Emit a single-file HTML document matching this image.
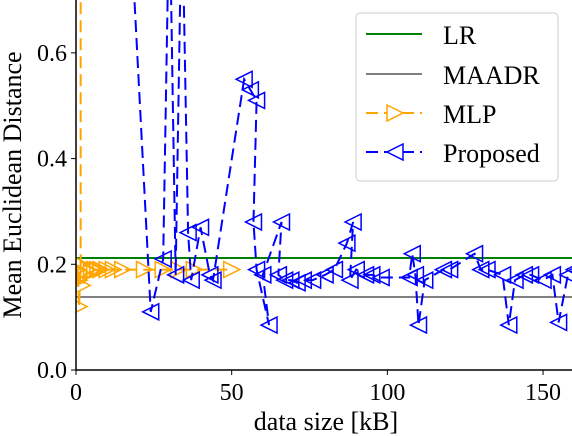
<!DOCTYPE html>
<html><head><meta charset="utf-8"><style>
body{margin:0;background:#fff}
svg{display:block;font-family:"Liberation Serif",serif}
</style></head><body>
<svg id="c" width="572" height="436"></svg>
<script>
const xTicks=[0,50,100,150];
const yTicks=[0.0,0.2,0.4,0.6];
const yTickLabels=["0.0","0.2","0.4","0.6"];
const lrValue=0.212;
const maadrValue=0.138;
const mlpX=[1.5,1.5,1,0.5,1,2,3,4,5,6,7,8,10,12,15,22,28,33,38,50];
const mlpY=[0.9,0.2,0.12,0.19,0.17,0.16,0.18,0.19,0.185,0.19,0.19,0.19,0.19,0.19,0.19,0.19,0.19,0.19,0.19,0.19];
const propX=[17,24,28,30,32,34,36,37,40,43,44,54,56,58,57,58,62,60,66,65,67,69,71,73,76,80,83,87,89,88,90,93,95,98,107,108,109,110,112,118,120,128,130,132,137,139,141,144,146,150,153,155,158,160];
const propY=[0.9,0.11,0.21,0.9,0.18,0.9,0.26,0.17,0.27,0.18,0.17,0.55,0.53,0.51,0.28,0.19,0.085,0.18,0.28,0.18,0.17,0.17,0.165,0.17,0.17,0.18,0.19,0.24,0.28,0.17,0.19,0.18,0.18,0.175,0.175,0.22,0.18,0.085,0.17,0.19,0.19,0.22,0.19,0.19,0.18,0.085,0.17,0.18,0.18,0.17,0.18,0.09,0.18,0.19];
const L=76,R=572,T=0,B=370,xMax=159.3,yMax=0.7;
const sx=v=>L+(v/xMax)*(R-L);
const sy=v=>B-(v/yMax)*(B-T);
const svg=document.getElementById('c');
const NS='http://www.w3.org/2000/svg';
function mk(tag,attrs,parent){const e=document.createElementNS(NS,tag);for(const k in attrs)e.setAttribute(k,attrs[k]);(parent||svg).appendChild(e);return e;}
const defs=mk('defs',{});const cp=mk('clipPath',{id:'pc'},defs);mk('rect',{x:L,y:T,width:R-L,height:B-T},cp);
const plot=mk('g',{'clip-path':'url(#pc)'});


let e=mk('line',{x1:L,x2:R,y1:sy(lrValue),y2:sy(lrValue),stroke:'green','stroke-width':2},plot);


e=mk('line',{x1:L,x2:R,y1:sy(maadrValue),y2:sy(maadrValue),stroke:'gray','stroke-width':2},plot);


function series(xs,ys,color,dir,name){
  const pts=xs.map((x,i)=>sx(x)+','+sy(ys[i])).join(' ');
  const pl=mk('polyline',{points:pts,fill:'none',stroke:color,'stroke-width':2,'stroke-dasharray':'12,6'},plot);
  
  
  xs.forEach((x,i)=>{const cx=sx(x),cy=sy(ys[i]),s=8;
    const p=dir>0?`${cx-s},${cy-s} ${cx+s},${cy} ${cx-s},${cy+s}`:`${cx+s},${cy-s} ${cx-s},${cy} ${cx+s},${cy+s}`;
    const m=mk('polygon',{points:p,fill:'none',stroke:color,'stroke-width':1.5},plot);
    
    });
}
series(mlpX,mlpY,'orange',1,'mlp');
series(propX,propY,'blue',-1,'proposed');
e=mk('line',{x1:L,x2:L,y1:T,y2:B,stroke:'#000','stroke-width':1.5});


e=mk('line',{x1:L,x2:R,y1:B,y2:B,stroke:'#000','stroke-width':1.5});


xTicks.forEach(v=>{mk('line',{x1:sx(v),x2:sx(v),y1:B,y2:B+5,stroke:'#000','stroke-width':1});
  const t=mk('text',{x:sx(v),y:B+30,'font-size':24,'text-anchor':'middle'});t.textContent=v;
  
  });
yTicks.forEach((v,i)=>{mk('line',{x1:L-5,x2:L,y1:sy(v),y2:sy(v),stroke:'#000','stroke-width':1});
  const t=mk('text',{x:L-9,y:sy(v)+8,'font-size':24,'text-anchor':'end'});t.textContent=yTickLabels[i];
  
  });
</script>
<svg style="position:absolute;left:0;top:0" width="572" height="436">
<text x="326" y="430" font-size="26" text-anchor="middle" font-family="Liberation Serif">data size [kB]</text>
<text transform="translate(21,185) rotate(-90)" font-size="26" text-anchor="middle" font-family="Liberation Serif">Mean Euclidean Distance</text>
<g font-family="Liberation Serif" font-size="26">
<rect x="356" y="13" width="202" height="168" rx="4" fill="#fff" fill-opacity="0.85" stroke="#ccc" stroke-width="1"/>
<line x1="366" x2="422" y1="34" y2="34" stroke="green" stroke-width="2"/>
<text x="443" y="44">LR</text>
<line x1="366" x2="422" y1="74" y2="74" stroke="gray" stroke-width="2"/>
<text x="443" y="84">MAADR</text>
<line x1="366" x2="422" y1="113" y2="113" stroke="orange" stroke-width="2" stroke-dasharray="12,6"/>
<polygon points="387,105 403,113 387,121" fill="#fff" stroke="orange" stroke-width="1.5"/>
<text x="443" y="123">MLP</text>
<line x1="366" x2="422" y1="152" y2="152" stroke="blue" stroke-width="2" stroke-dasharray="12,6"/>
<polygon points="403,144 387,152 403,160" fill="#fff" stroke="blue" stroke-width="1.5"/>
<text x="443" y="162">Proposed</text>
</g>
</svg>
</body></html>
